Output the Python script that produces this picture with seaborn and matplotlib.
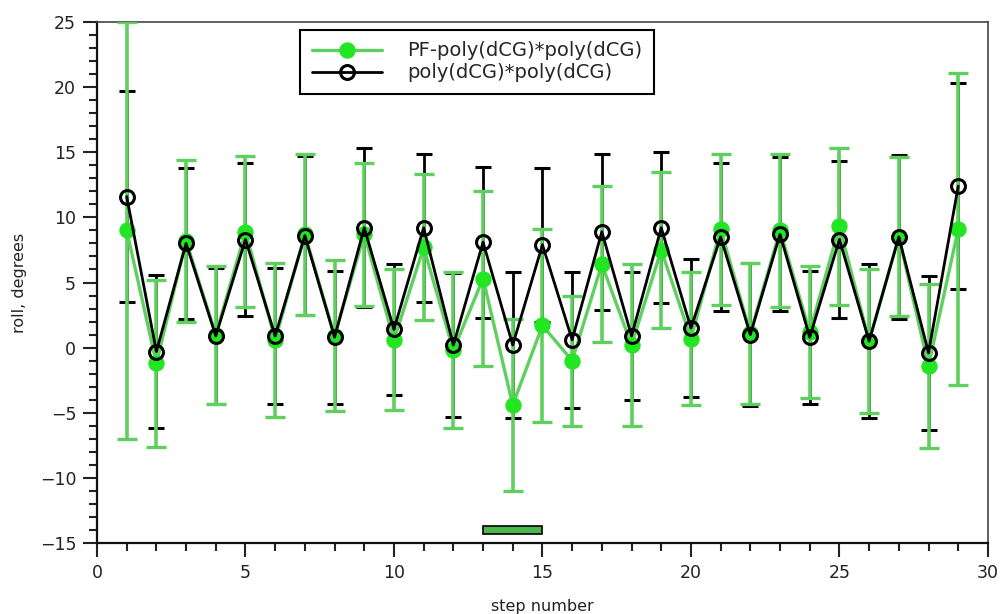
import numpy as np
import pandas as pd
import matplotlib
matplotlib.use("Agg")
import matplotlib.pyplot as plt
from matplotlib.ticker import MultipleLocator
import seaborn as sns

# Roll angle per base-pair step, mean and standard deviation
steps = list(range(1, 30))

pf_roll = [9.0, -1.2, 8.2, 1.0, 8.9, 0.6, 8.7, 0.9, 8.7, 0.6,
           7.7, -0.2, 5.3, -4.4, 1.7, -1.0, 6.4, 0.2, 7.5, 0.7,
           9.1, 1.1, 9.0, 1.2, 9.3, 0.5, 8.5, -1.4, 9.1]
pf_sd = [16.0, 6.4, 6.2, 5.3, 5.8, 5.9, 6.2, 5.8, 5.5, 5.4,
         5.6, 6.0, 6.7, 6.6, 7.4, 5.0, 6.0, 6.2, 6.0, 5.1,
         5.8, 5.4, 5.9, 5.1, 6.0, 5.5, 6.1, 6.3, 12.0]

ref_roll = [11.6, -0.3, 8.0, 0.9, 8.3, 0.9, 8.6, 0.8, 9.2, 1.4,
            9.2, 0.2, 8.1, 0.2, 7.9, 0.6, 8.9, 0.9, 9.2, 1.5,
            8.5, 1.0, 8.7, 0.8, 8.3, 0.5, 8.5, -0.4, 12.4]
ref_sd = [8.1, 5.9, 5.8, 5.2, 5.9, 5.2, 6.1, 5.1, 6.1, 5.0,
          5.7, 5.5, 5.8, 5.6, 5.9, 5.2, 6.0, 4.9, 5.8, 5.3,
          5.7, 5.5, 5.9, 5.1, 6.0, 5.9, 6.3, 5.9, 7.9]

pf_label = "PF-poly(dCG)*poly(dCG)"
ref_label = "poly(dCG)*poly(dCG)"

# Highlighted step range
region_start, region_end, region_y = 13, 15, -14.0

sns.set_theme(style="ticks")
plt.rcParams["font.family"] = ["DejaVu Sans"]

green_line = "#5fcf5f"
green_dot = "#22e622"

fig = plt.figure(figsize=(10.05, 6.14), dpi=100)
ax = fig.add_axes([0.0965, 0.1156, 0.8865, 0.8486])

df = pd.DataFrame({"step": steps, "pf": pf_roll, "ref": ref_roll})

# error bars (black first, green on top)
ax.errorbar(steps, ref_roll, yerr=ref_sd, fmt="none", ecolor="black",
            elinewidth=2.0, capsize=6, capthick=2.2, zorder=2)
ax.errorbar(steps, pf_roll, yerr=pf_sd, fmt="none", ecolor=green_line,
            elinewidth=2.6, capsize=7, capthick=2.4, zorder=3)

sns.lineplot(data=df, x="step", y="pf", ax=ax, color=green_line, lw=2.4,
             marker="o", markersize=11, markerfacecolor=green_dot,
             markeredgecolor=green_dot, label=pf_label, zorder=4)
sns.lineplot(data=df, x="step", y="ref", ax=ax, color="black", lw=2.0,
             marker="o", markersize=10, markerfacecolor="none",
             markeredgecolor="black", markeredgewidth=2.2,
             label=ref_label, zorder=5)

# bar marking the highlighted steps
ax.add_patch(plt.Rectangle((region_start, region_y - 0.28),
                           region_end - region_start, 0.56,
                           facecolor="#4cb84c", edgecolor="black", lw=1.2,
                           zorder=3))

ax.set_xlim(0, 30)
ax.set_ylim(-15, 25)
ax.xaxis.set_major_locator(MultipleLocator(5))
ax.xaxis.set_minor_locator(MultipleLocator(1))
ax.yaxis.set_major_locator(MultipleLocator(5))
ax.yaxis.set_minor_locator(MultipleLocator(1))
ax.tick_params(which="major", direction="out", length=10, width=1.5,
               labelsize=12.5, colors="#222222", pad=5)
ax.tick_params(which="minor", direction="out", length=6, width=1.5,
               colors="#222222")
ax.tick_params(top=False, right=False, which="both")
for side in ["left", "bottom"]:
    ax.spines[side].set_linewidth(1.6)
    ax.spines[side].set_color("#111111")
for side in ["top", "right"]:
    ax.spines[side].set_visible(True)
    ax.spines[side].set_linewidth(1.2)
    ax.spines[side].set_color("#444444")

ax.set_xlabel("step number", fontsize=11.5, color="#222222", labelpad=12)
ax.set_ylabel("roll, degrees", fontsize=11.5, color="#222222", labelpad=9)

leg = ax.legend(loc="upper left", bbox_to_anchor=(0.228, 0.985),
                borderaxespad=0, fontsize=14, handlelength=3.6,
                frameon=True, fancybox=False, edgecolor="black",
                framealpha=1, borderpad=0.6, labelspacing=0.15,
                handletextpad=1.3)
leg.get_frame().set_linewidth(1.5)

fig.savefig("out.png", dpi=100)
